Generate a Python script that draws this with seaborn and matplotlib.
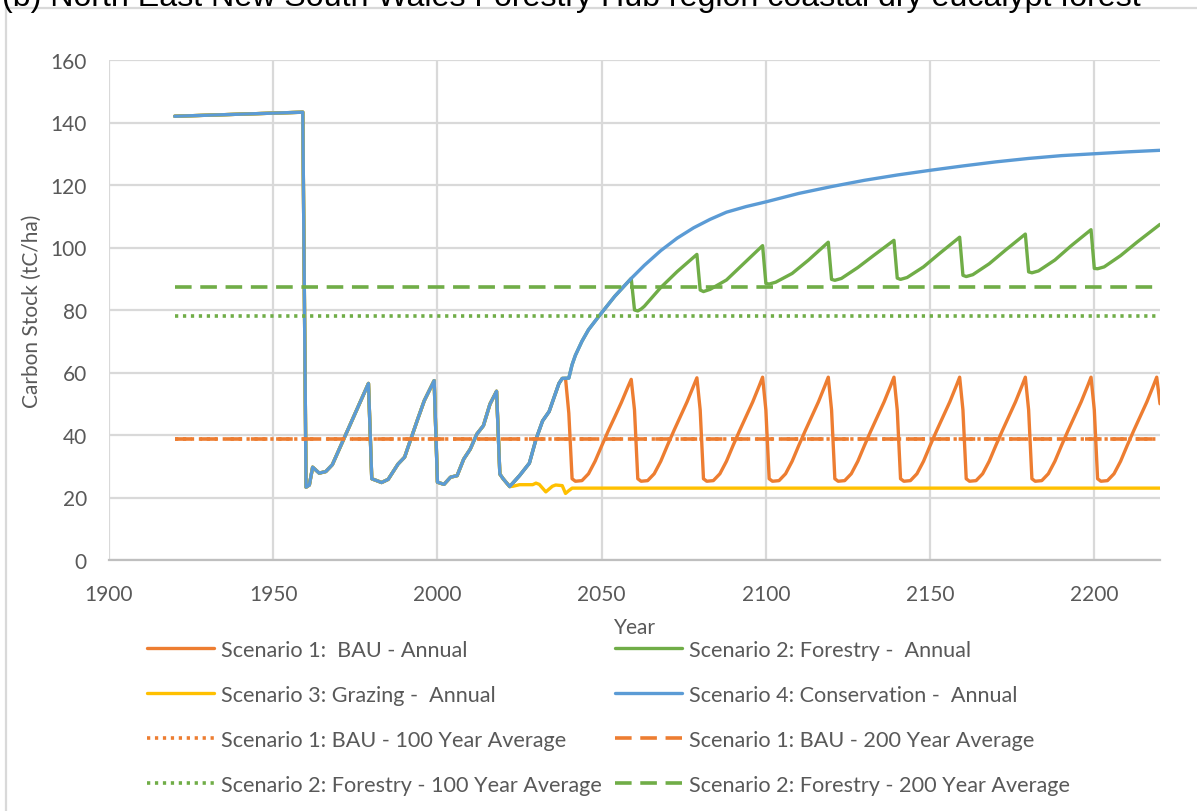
import matplotlib
matplotlib.use("Agg")
import matplotlib.pyplot as plt
from matplotlib.patches import Rectangle
import seaborn as sns
import pandas as pd

# ---------------- data ----------------
title_text = "(b) North East New South Wales Forestry Hub region coastal dry eucalypt forest"
x_ticks = [1900, 1950, 2000, 2050, 2100, 2150, 2200]
y_ticks = [0, 20, 40, 60, 80, 100, 120, 140, 160]

# shared history (all four scenarios identical until ~2022)
hist_years = [1920, 1959, 1960, 1961, 1962, 1964, 1966, 1968, 1979, 1980, 1981,
              1983, 1985, 1988, 1990, 1994, 1996, 1999, 2000, 2002, 2004, 2006,
              2008, 2010, 2012, 2014, 2016, 2018, 2019, 2020, 2022]
hist_stock = [142.0, 143.3, 23.3, 24.0, 29.7, 27.8, 28.3, 30.5, 56.5, 26.0, 25.6,
              24.8, 25.8, 30.7, 32.9, 45.1, 51.0, 57.4, 24.9, 24.2, 26.5, 27.0,
              32.3, 35.5, 40.3, 43.0, 49.9, 54.0, 27.5, 26.0, 23.5]

# Scenario 4: Conservation after 2022
cons_years = [2025, 2028, 2030, 2032, 2034, 2037, 2038, 2040, 2041, 2042, 2044, 2046,
              2049, 2054, 2059, 2063, 2068, 2073, 2078, 2083, 2088, 2094, 2100, 2110,
              2120, 2130, 2140, 2150, 2160, 2170, 2180, 2190, 2200, 2210, 2220]
cons_stock = [27.0, 31.0, 38.6, 44.5, 47.5, 56.5, 58.1, 58.2, 62.5, 65.5, 70.0, 73.7,
              77.8, 84.4, 90.1, 94.3, 99.0, 103.0, 106.3, 109.0, 111.3, 113.1, 114.6, 117.3,
              119.5, 121.5, 123.2, 124.7, 126.1, 127.4, 128.5, 129.4, 130.0, 130.6, 131.1]

# Scenario 1: BAU after 2022 (20-year harvest cycles)
bau_years = [2025, 2028, 2030, 2032, 2034, 2037, 2038, 2039,
             2040, 2041, 2042, 2044, 2046, 2048, 2050, 2052, 2054, 2056, 2058, 2059,
             2060, 2061, 2062, 2064, 2066, 2068, 2070, 2072, 2074, 2076, 2078, 2079,
             2080, 2081, 2082, 2084, 2086, 2088, 2090, 2092, 2094, 2096, 2098, 2099,
             2100, 2101, 2102, 2104, 2106, 2108, 2110, 2112, 2114, 2116, 2118, 2119,
             2120, 2121, 2122, 2124, 2126, 2128, 2130, 2132, 2134, 2136, 2138, 2139,
             2140, 2141, 2142, 2144, 2146, 2148, 2150, 2152, 2154, 2156, 2158, 2159,
             2160, 2161, 2162, 2164, 2166, 2168, 2170, 2172, 2174, 2176, 2178, 2179,
             2180, 2181, 2182, 2184, 2186, 2188, 2190, 2192, 2194, 2196, 2198, 2199,
             2200, 2201, 2202, 2204, 2206, 2208, 2210, 2212, 2214, 2216, 2218, 2219,
             2220]
bau_stock = [27.0, 31.0, 38.6, 44.5, 47.5, 56.5, 58.1, 58.1,
             47.0, 26.0, 25.2, 25.4, 27.6, 31.6, 36.5, 41.3, 45.8, 50.4, 55.4, 57.8,
             48.0, 26.0, 25.2, 25.4, 27.6, 31.6, 36.6, 41.4, 46.0, 50.6, 55.7, 58.3,
             48.0, 26.0, 25.2, 25.4, 27.6, 31.6, 36.6, 41.4, 46.0, 50.6, 55.8, 58.5,
             48.0, 26.0, 25.2, 25.4, 27.6, 31.6, 36.6, 41.4, 46.0, 50.6, 55.8, 58.5,
             48.0, 26.0, 25.2, 25.4, 27.6, 31.6, 36.6, 41.4, 46.0, 50.6, 55.8, 58.5,
             48.0, 26.0, 25.2, 25.4, 27.6, 31.6, 36.6, 41.4, 46.0, 50.6, 55.8, 58.5,
             48.0, 26.0, 25.2, 25.4, 27.6, 31.6, 36.6, 41.4, 46.0, 50.6, 55.8, 58.5,
             48.0, 26.0, 25.2, 25.4, 27.6, 31.6, 36.6, 41.4, 46.0, 50.6, 55.8, 58.5,
             48.0, 26.0, 25.2, 25.4, 27.6, 31.6, 36.6, 41.4, 46.0, 50.6, 55.8, 58.5,
             50.0]

# Scenario 2: Forestry after 2022
for_years = [2025, 2028, 2030, 2032, 2034, 2037, 2038, 2040, 2041, 2042, 2044, 2046,
             2049, 2054, 2059,
             2060, 2061, 2062, 2063, 2068, 2073, 2079,
             2080, 2081, 2083, 2088, 2093, 2099,
             2100, 2101, 2103, 2108, 2113, 2119,
             2120, 2121, 2123, 2128, 2133, 2139,
             2140, 2141, 2143, 2148, 2153, 2159,
             2160, 2161, 2163, 2168, 2173, 2179,
             2180, 2181, 2183, 2188, 2193, 2199,
             2200, 2201, 2203, 2208, 2213, 2220]
for_stock = [27.0, 31.0, 38.6, 44.5, 47.5, 56.5, 58.1, 58.2, 62.5, 65.5, 70.0, 73.7,
             77.8, 84.4, 90.1,
             80.0, 79.7, 80.3, 81.2, 87.2, 92.3, 97.8,
             86.4, 85.9, 86.6, 89.6, 94.6, 100.6,
             88.5, 88.3, 88.9, 91.7, 96.0, 101.7,
             89.8, 89.5, 90.1, 93.6, 97.6, 102.3,
             90.2, 89.8, 90.4, 93.8, 98.2, 103.3,
             91.1, 90.7, 91.3, 94.8, 99.2, 104.3,
             92.2, 91.9, 92.5, 96.0, 100.6, 105.7,
             93.3, 93.2, 93.8, 97.4, 101.7, 107.4]

# Scenario 3: Grazing after 2022
graz_years = [2023, 2025, 2029, 2030, 2031, 2033, 2035, 2036, 2038, 2039, 2040, 2041, 2220]
graz_stock = [23.6, 24.1, 24.1, 24.6, 24.2, 21.8, 23.6, 24.0, 23.8, 21.3, 22.2, 23.0, 23.0]

# averages (horizontal reference lines)
avg_span = [1920, 2220]
bau_avg_100 = 38.6
bau_avg_200 = 38.6
for_avg_100 = 78.0
for_avg_200 = 87.5

labels = ["Scenario 1:  BAU - Annual",
          "Scenario 2: Forestry -  Annual",
          "Scenario 3: Grazing -  Annual",
          "Scenario 4: Conservation -  Annual",
          "Scenario 1: BAU - 100 Year Average",
          "Scenario 1: BAU - 200 Year Average",
          "Scenario 2: Forestry - 100 Year Average",
          "Scenario 2: Forestry - 200 Year Average"]

# ---------------- styling ----------------
ORANGE = "#ED7D31"
GREEN = "#70AD47"
YELLOW = "#FFC000"
BLUE = "#5B9BD5"
GRID = "#D9D9D9"
TXT = "#595959"

sns.set_style("whitegrid", {"grid.color": GRID})
plt.rcParams["font.family"] = ["Lato", "DejaVu Sans"]
FS = 15
LFS = 15.6

def series(years_a, vals_a, years_b, vals_b):
    return pd.DataFrame({"year": list(years_a) + list(years_b),
                         "stock": list(vals_a) + list(vals_b)})

df_bau = series(hist_years, hist_stock, bau_years, bau_stock)
df_for = series(hist_years, hist_stock, for_years, for_stock)
df_graz = series(hist_years, hist_stock, graz_years, graz_stock)
df_cons = series(hist_years, hist_stock, cons_years, cons_stock)

fig = plt.figure(figsize=(11.97, 8.12), dpi=100)
ax = fig.add_axes([109 / 1197, 1 - 561 / 812, 1051 / 1197, 500 / 812])

LW = 2.4
handles = []
for df, col, z in [(df_bau, ORANGE, 3), (df_for, GREEN, 4), (df_graz, YELLOW, 5), (df_cons, BLUE, 6)]:
    sns.lineplot(data=df, x="year", y="stock", color=col, linewidth=LW, ax=ax,
                 legend=False, zorder=z, estimator=None, sort=False)
    handles.append(ax.lines[-1])

ALW = 2.6
avg_specs = [(bau_avg_100, ORANGE, (0.9, 1.3), 7),
             (bau_avg_200, ORANGE, (4.6, 2.4), 8),
             (for_avg_100, GREEN, (0.9, 1.3), 9),
             (for_avg_200, GREEN, (4.6, 2.4), 10)]
for val, col, dash, z in avg_specs:
    d = pd.DataFrame({"year": avg_span, "stock": [val, val]})
    sns.lineplot(data=d, x="year", y="stock", color=col, linewidth=ALW, ax=ax,
                 legend=False, zorder=z, estimator=None)
    ln = ax.lines[-1]
    ln.set_dashes(dash)
    ln.set_dash_capstyle("butt")
    handles.append(ln)

ax.set_xlim(1900, 2220)
ax.set_ylim(0, 160)
ax.set_xticks(x_ticks)
ax.set_yticks(y_ticks)
ax.grid(True, color=GRID, linewidth=1.6)
for s in ["left", "top", "right"]:
    ax.spines[s].set_visible(False)
ax.spines["bottom"].set_color("#BFBFBF")
ax.spines["bottom"].set_linewidth(1.6)
ax.spines["bottom"].set_zorder(2)
ax.tick_params(axis="both", length=0, labelsize=FS, labelcolor=TXT)
ax.tick_params(axis="y", pad=16)
ax.tick_params(axis="x", pad=17)
ax.set_xlabel("Year", fontsize=FS, color=TXT, labelpad=10)
ax.set_ylabel("Carbon Stock (tC/ha)", fontsize=FS, color=TXT, labelpad=6)

# legend (Excel order is row-major: supply column-major order)
order = [0, 2, 4, 6, 1, 3, 5, 7]
leg = fig.legend([handles[i] for i in order], [labels[i] for i in order],
                 ncol=2, loc="upper left", bbox_to_anchor=(147 / 1197, 1 - 641 / 812),
                 frameon=False, fontsize=LFS, handlelength=3.1, handletextpad=0.32,
                 columnspacing=0.6, labelspacing=1.15, borderpad=0, borderaxespad=0)
for t in leg.get_texts():
    t.set_color(TXT)

# chart border and cut-off title
fig.patches.append(Rectangle((6 / 1197, -0.2), 1.2, (1 - 9 / 812) + 0.2,
                             transform=fig.transFigure, fill=False,
                             edgecolor=GRID, linewidth=1.6))
fig.text(2 / 1197, 1 - 6 / 812, title_text, fontsize=23.1,
         family=["Liberation Sans", "DejaVu Sans"], color="black",
         ha="left", va="baseline")

fig.savefig("out.png", dpi=100)
